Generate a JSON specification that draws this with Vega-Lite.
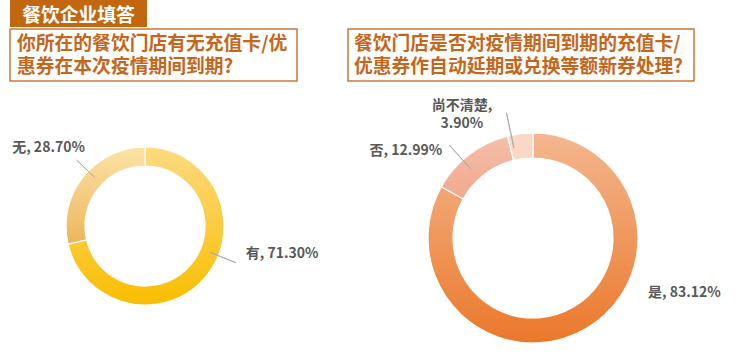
{
  "$schema": "https://vega.github.io/schema/vega-lite/v6.json",
  "background": "white",
  "padding": {"left": 9, "top": 0, "right": 0, "bottom": 0},
  "config": {"view": {"stroke": null}, "font": "Noto Sans CJK SC"},
  "spacing": 1,
  "vconcat": [
    {
      "width": 137,
      "height": 27,
      "view": {"fill": "#C2670F", "stroke": null},
      "data": {"values": [{"t": "餐饮企业填答"}]},
      "mark": {"type": "text", "dy": 2, "font": "Noto Sans CJK SC", "fontSize": 18.8, "fontWeight": "bold", "fill": "white"},
      "encoding": {"text": {"field": "t"}}
    },
    {
      "spacing": 28,
      "hconcat": [
        {
          "spacing": 31,
          "bounds": "flush",
          "vconcat": [
            {
              "width": 287,
              "height": 52,
              "view": {"stroke": "#C97A3A", "strokeWidth": 1.5, "fill": "white"},
              "data": {"values": [{"t": "你所在的餐饮门店有无充值卡/优\n惠券在本次疫情期间到期?"}]},
              "mark": {"type": "text", "align": "left", "x": 7, "dy": -11, "lineBreak": "\n", "lineHeight": 23, "font": "Noto Sans CJK SC", "fontSize": 18.8, "fontWeight": "bold", "fill": "#C6661A"},
              "encoding": {"text": {"field": "t"}}
            },
            {
              "width": 270,
              "height": 228,
              "data": {"values": [
                {"cat": "有", "value": 71.30, "label": "有, 71.30%"},
                {"cat": "无", "value": 28.70, "label": "无, 28.70%"}
              ]},
              "transform": [{"stack": "value", "groupby": [], "sort": [{"field": "value", "order": "descending"}], "as": ["v0", "v1"]}],
              "layer": [
                {
                  "mark": {"type": "arc", "innerRadius": 60, "outerRadius": 79, "stroke": "white", "strokeWidth": 1.2},
                  "encoding": {
                    "theta": {"field": "v0", "type": "quantitative", "scale": {"domain": [0, 100]}},
                    "theta2": {"field": "v1"},
                    "fill": {
                      "condition": {"test": "datum.cat === '有'", "value": {"gradient": "linear", "x1": 0, "y1": 0, "x2": 0, "y2": 1, "stops": [{"offset": 0, "color": "#FCDA80"}, {"offset": 1, "color": "#F9BE00"}]}},
                      "value": {"gradient": "linear", "x1": 0, "y1": 0, "x2": 0, "y2": 1, "stops": [{"offset": 0, "color": "#FCE3A6"}, {"offset": 1, "color": "#ECB55C"}]}
                    }
                  }
                },
                {
                  "transform": [{"filter": "datum.cat === '有'"}],
                  "mark": {"type": "arc", "radius": 70, "radius2": 98, "thetaOffset": 1.955, "theta2Offset": 1.955, "stroke": "#A6A6A6", "strokeWidth": 0.8, "fill": null},
                  "encoding": {"theta": {"field": "v0", "type": "quantitative"}, "theta2": {"field": "v0"}}
                },
                {
                  "transform": [{"filter": "datum.cat === '无'"}],
                  "mark": {"type": "arc", "radius": 70, "radius2": 95, "thetaOffset": 1.0, "theta2Offset": 1.0, "stroke": "#A6A6A6", "strokeWidth": 0.8, "fill": null},
                  "encoding": {"theta": {"field": "v0", "type": "quantitative"}, "theta2": {"field": "v0"}}
                },
                {
                  "transform": [{"filter": "datum.cat === '有'"}],
                  "mark": {"type": "text", "radius": 140, "thetaOffset": 1.772, "font": "Noto Sans CJK SC", "fontSize": 14, "fontWeight": "bold", "fill": "#595959"},
                  "encoding": {"theta": {"field": "v0", "type": "quantitative"}, "text": {"field": "label"}}
                },
                {
                  "transform": [{"filter": "datum.cat === '无'"}],
                  "mark": {"type": "text", "radius": 124, "thetaOffset": 0.912, "font": "Noto Sans CJK SC", "fontSize": 14, "fontWeight": "bold", "fill": "#595959"},
                  "encoding": {"theta": {"field": "v0", "type": "quantitative"}, "text": {"field": "label"}}
                }
              ]
            }
          ]
        },
        {
          "spacing": 31,
          "bounds": "flush",
          "vconcat": [
            {
              "width": 346,
              "height": 52,
              "view": {"stroke": "#C97A3A", "strokeWidth": 1.5, "fill": "white"},
              "data": {"values": [{"t": "餐饮门店是否对疫情期间到期的充值卡/\n优惠券作自动延期或兑换等额新券处理?"}]},
              "mark": {"type": "text", "align": "left", "x": 6, "dy": -11, "lineBreak": "\n", "lineHeight": 23, "font": "Noto Sans CJK SC", "fontSize": 18.8, "fontWeight": "bold", "fill": "#C6661A"},
              "encoding": {"text": {"field": "t"}}
            },
            {
              "width": 370,
              "height": 252,
              "data": {"values": [
                {"cat": "是", "value": 83.12, "label": "是, 83.12%"},
                {"cat": "否", "value": 12.99, "label": "否, 12.99%"},
                {"cat": "尚不清楚", "value": 3.90, "label": "尚不清楚,\n3.90%"}
              ]},
              "transform": [{"stack": "value", "groupby": [], "sort": [{"field": "value", "order": "descending"}], "as": ["v0", "v1"]}],
              "layer": [
                {
                  "mark": {"type": "arc", "innerRadius": 80, "outerRadius": 105, "stroke": "white", "strokeWidth": 1.2},
                  "encoding": {
                    "theta": {"field": "v0", "type": "quantitative", "scale": {"domain": [0, 100.01]}},
                    "theta2": {"field": "v1"},
                    "fill": {
                      "condition": [
                        {"test": "datum.cat === '是'", "value": {"gradient": "linear", "x1": 0, "y1": 0, "x2": 0, "y2": 1, "stops": [{"offset": 0, "color": "#F4B78F"}, {"offset": 1, "color": "#EB782A"}]}},
                        {"test": "datum.cat === '否'", "value": {"gradient": "linear", "x1": 0, "y1": 0, "x2": 0, "y2": 1, "stops": [{"offset": 0, "color": "#F5BFAA"}, {"offset": 1, "color": "#F0A88C"}]}}
                      ],
                      "value": "#F7D9C6"
                    }
                  }
                },
                {
                  "transform": [{"filter": "datum.cat === '否'"}],
                  "mark": {"type": "arc", "radius": 93, "radius2": 125, "thetaOffset": 0.328, "theta2Offset": 0.328, "stroke": "#A6A6A6", "strokeWidth": 0.8, "fill": null},
                  "encoding": {"theta": {"field": "v0", "type": "quantitative"}, "theta2": {"field": "v0"}}
                },
                {
                  "transform": [{"filter": "datum.cat === '尚不清楚'"}],
                  "mark": {"type": "arc", "radius": 92, "radius2": 128, "thetaOffset": 0.036, "theta2Offset": 0.036, "stroke": "#A6A6A6", "strokeWidth": 0.8, "fill": null},
                  "encoding": {"theta": {"field": "v0", "type": "quantitative"}, "theta2": {"field": "v0"}}
                },
                {
                  "transform": [{"filter": "datum.cat === '是'"}],
                  "mark": {"type": "text", "radius": 161, "thetaOffset": 1.919, "font": "Noto Sans CJK SC", "fontSize": 14, "fontWeight": "bold", "fill": "#595959"},
                  "encoding": {"theta": {"field": "v0", "type": "quantitative"}, "text": {"field": "label"}}
                },
                {
                  "transform": [{"filter": "datum.cat === '否'"}],
                  "mark": {"type": "text", "radius": 154, "thetaOffset": 0.091, "font": "Noto Sans CJK SC", "fontSize": 14, "fontWeight": "bold", "fill": "#595959"},
                  "encoding": {"theta": {"field": "v0", "type": "quantitative"}, "text": {"field": "label"}}
                },
                {
                  "transform": [{"filter": "datum.cat === '尚不清楚'"}],
                  "mark": {"type": "text", "radius": 142, "thetaOffset": -0.279, "dy": -9, "lineBreak": "\n", "lineHeight": 18, "font": "Noto Sans CJK SC", "fontSize": 14, "fontWeight": "bold", "fill": "#595959"},
                  "encoding": {"theta": {"field": "v0", "type": "quantitative"}, "text": {"field": "label"}}
                }
              ]
            }
          ]
        }
      ]
    }
  ]
}
